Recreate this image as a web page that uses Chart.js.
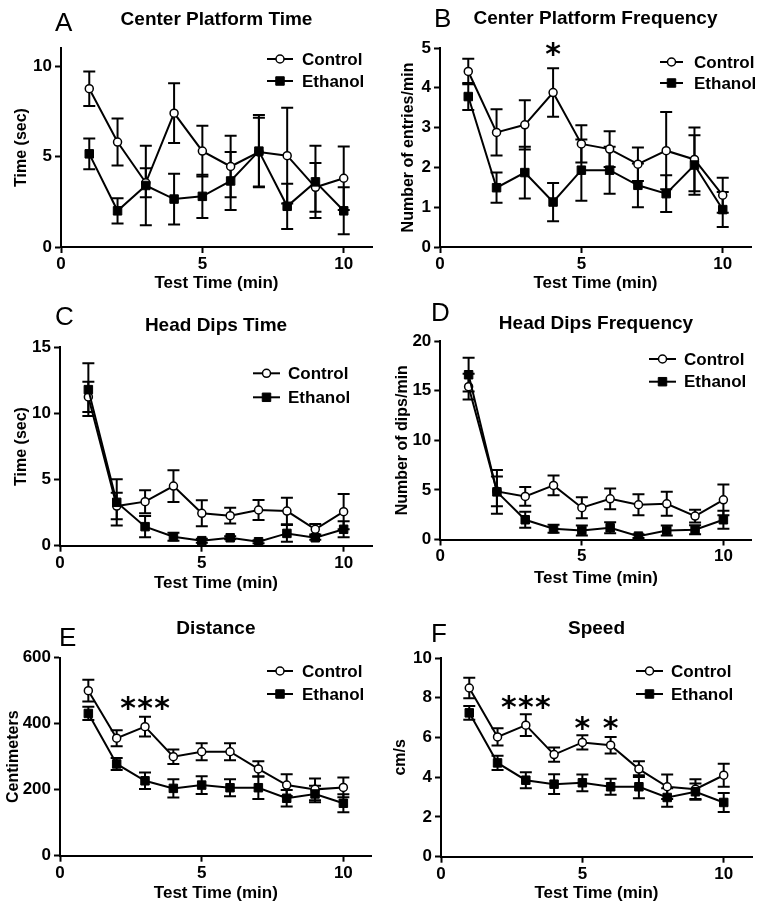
<!DOCTYPE html>
<html>
<head>
<meta charset="utf-8">
<script src="https://cdn.jsdelivr.net/npm/chart.js@4.4.1/dist/chart.umd.min.js"></script>
<style>
  body { margin: 0; background: #fff; width: 762px; height: 908px; position: relative; overflow: hidden; }
  canvas { position: absolute; }
  .letra { position: absolute; font: 26px 'Liberation Sans', Arial, sans-serif; line-height: 1; color: #000; }
</style>
</head>
<body>
<script>
// Datos (media y error por minuto)
const minutos = [1, 2, 3, 4, 5, 6, 7, 8, 9, 10];
const xTicks = [0, 5, 10];

// A - Center Platform Time
const cptControl = [8.75, 5.8, 3.55, 7.4, 5.3, 4.45, 5.25, 5.05, 3.3, 3.8];
const cptControlSem = [0.95, 1.3, 0.8, 1.65, 1.4, 1.7, 1.9, 2.65, 1.35, 1.75];
const cptEthanol = [5.15, 2.0, 3.4, 2.65, 2.8, 3.65, 5.3, 2.25, 3.6, 2.0];
const cptEthanolSem = [0.85, 0.7, 2.2, 1.4, 1.2, 1.6, 2.0, 1.25, 2.0, 1.3];
const cptTicks = [0, 5, 10];

// B - Center Platform Frequency
const cpfControl = [4.41, 2.88, 3.07, 3.88, 2.59, 2.46, 2.08, 2.42, 2.2, 1.3];
const cpfControlSem = [0.32, 0.58, 0.62, 0.61, 0.47, 0.45, 0.42, 0.97, 0.8, 0.44];
const cpfEthanol = [3.78, 1.49, 1.87, 1.13, 1.93, 1.93, 1.55, 1.34, 2.06, 0.94];
const cpfEthanolSem = [0.34, 0.38, 0.65, 0.48, 0.77, 0.59, 0.55, 0.46, 0.75, 0.44];
const cpfTicks = [0, 1, 2, 3, 4, 5];
const cpfStarsX = [4];
const cpfStarsY = [5.04];

// C - Head Dips Time
const hdtControl = [11.25, 3.0, 3.33, 4.51, 2.45, 2.27, 2.7, 2.62, 1.24, 2.57];
const hdtControlSem = [1.15, 1.0, 0.87, 1.2, 0.98, 0.6, 0.75, 1.0, 0.4, 1.33];
const hdtEthanol = [11.8, 3.28, 1.44, 0.68, 0.38, 0.6, 0.3, 0.93, 0.6, 1.24];
const hdtEthanolSem = [2.0, 1.75, 0.8, 0.3, 0.15, 0.12, 0.12, 0.63, 0.15, 0.6];
const hdtTicks = [0, 5, 10, 15];

// D - Head Dips Frequency
const hdfControl = [15.4, 4.85, 4.34, 5.45, 3.2, 4.1, 3.5, 3.6, 2.36, 4.0];
const hdfControlSem = [1.3, 1.5, 0.95, 1.0, 1.05, 1.05, 1.05, 1.2, 0.65, 1.55];
const hdfEthanol = [16.6, 4.8, 1.99, 1.08, 0.91, 1.18, 0.34, 0.91, 0.98, 1.99];
const hdfEthanolSem = [1.7, 2.2, 0.8, 0.4, 0.5, 0.55, 0.2, 0.5, 0.45, 0.9];
const hdfTicks = [0, 5, 10, 15, 20];

// E - Distance
const distControl = [500, 356, 391, 300, 315, 315, 263, 214, 201, 207];
const distControlSem = [33, 24, 30, 22, 26, 26, 23, 33, 33, 30];
const distEthanol = [431, 278, 227, 204, 214, 206, 206, 174, 187, 159];
const distEthanolSem = [20, 18, 25, 28, 27, 26, 34, 25, 25, 27];
const distTicks = [0, 200, 400, 600];
const distStarsX = [2.4, 3, 3.6];
const distStarsY = [472, 472, 472];

// F - Speed
const speedControl = [8.49, 6.03, 6.62, 5.14, 5.75, 5.61, 4.41, 3.52, 3.4, 4.1];
const speedControlSem = [0.52, 0.43, 0.55, 0.36, 0.36, 0.42, 0.4, 0.62, 0.5, 0.58];
const speedEthanol = [7.24, 4.72, 3.85, 3.65, 3.72, 3.52, 3.52, 2.98, 3.27, 2.73];
const speedEthanolSem = [0.35, 0.36, 0.4, 0.5, 0.42, 0.4, 0.58, 0.46, 0.41, 0.48];
const speedTicks = [0, 2, 4, 6, 8, 10];
const speedStarsX = [2.4, 3, 3.6, 5, 6];
const speedStarsY = [7.96, 7.96, 7.96, 6.87, 6.87];

const FUENTE = "'Liberation Sans', Arial, sans-serif";
Chart.defaults.font.family = FUENTE;
Chart.defaults.color = '#000';

// Paneles: textos, datos y ubicacion en la pagina
const paneles = [
  { letra: 'A', titulo: 'Center Platform Time', yTitulo: 'Time (sec)', yMax: 11, ticks: cptTicks,
    control: cptControl, controlSem: cptControlSem, etanol: cptEthanol, etanolSem: cptEthanolSem,
    estrellasX: [], estrellasY: [],
    caja: [0, 0, 381, 300], ejeY: 61, ejeX: 247, derecha: 9, tituloPad: [8.1, 17.1], yTitPad: 12, xTitPad: 6.5,
    letraPos: [55, 8.6], leyenda: [267, 293, 302, 59, 81] },
  { letra: 'B', titulo: 'Center Platform Frequency', yTitulo: 'Number of entries/min', yMax: 5, ticks: cpfTicks,
    control: cpfControl, controlSem: cpfControlSem, etanol: cpfEthanol, etanolSem: cpfEthanolSem,
    estrellasX: cpfStarsX, estrellasY: cpfStarsY,
    caja: [381, 0, 381, 300], ejeY: 59, ejeX: 247, derecha: 11, tituloPad: [7.6, 17.6], yTitPad: 18, xTitPad: 6.5,
    letraPos: [434, 4.6], leyenda: [279, 302, 313, 62, 83] },
  { letra: 'C', titulo: 'Head Dips Time', yTitulo: 'Time (sec)', yMax: 15, ticks: hdtTicks,
    control: hdtControl, controlSem: hdtControlSem, etanol: hdtEthanol, etanolSem: hdtEthanolSem,
    estrellasX: [], estrellasY: [],
    caja: [0, 290, 381, 310], ejeY: 60, ejeX: 255.7, derecha: 9, tituloPad: [24.1, 10.4], yTitPad: 12, xTitPad: 6.5,
    letraPos: [55, 302.6], leyenda: [253, 280, 288, 83.3, 107.3] },
  { letra: 'D', titulo: 'Head Dips Frequency', yTitulo: 'Number of dips/min', yMax: 20, ticks: hdfTicks,
    control: hdfControl, controlSem: hdfControlSem, etanol: hdfEthanol, etanolSem: hdfEthanolSem,
    estrellasX: [], estrellasY: [],
    caja: [381, 290, 381, 310], ejeY: 59.3, ejeX: 249.5, derecha: 10.3, tituloPad: [21.9, 6.3], yTitPad: 12, xTitPad: 11.5,
    letraPos: [431, 298.6], leyenda: [268, 295, 303, 69, 91.7] },
  { letra: 'E', titulo: 'Distance', yTitulo: 'Centimeters', yMax: 600, ticks: distTicks,
    control: distControl, controlSem: distControlSem, etanol: distEthanol, etanolSem: distEthanolSem,
    estrellasX: distStarsX, estrellasY: distStarsY,
    caja: [0, 590, 381, 318], ejeY: 60, ejeX: 265.7, derecha: 9.3, tituloPad: [27.1, 17.8], yTitPad: 3.7, xTitPad: 4.3,
    letraPos: [59, 623.6], leyenda: [267, 293, 302, 81, 104] },
  { letra: 'F', titulo: 'Speed', yTitulo: 'cm/s', yMax: 10, ticks: speedTicks,
    control: speedControl, controlSem: speedControlSem, etanol: speedEthanol, etanolSem: speedEthanolSem,
    estrellasX: speedStarsX, estrellasY: speedStarsY,
    caja: [381, 590, 381, 318], ejeY: 60, ejeX: 266.7, derecha: 10, tituloPad: [26.9, 18.3], yTitPad: 10.4, xTitPad: 4,
    letraPos: [431, 619.6], leyenda: [255, 282, 290, 81, 104] }
];

// Barras de error (media +/- error) dibujadas con las escalas del grafico
const barrasError = {
  id: 'barrasError',
  beforeDatasetsDraw(chart) {
    const { ctx, scales: { x, y } } = chart;
    ctx.save();
    ctx.strokeStyle = '#000';
    ctx.lineWidth = 2;
    chart.data.datasets.forEach(ds => {
      ds.data.forEach((p, i) => {
        const e = ds.sem[i];
        const px = x.getPixelForValue(p.x);
        const arriba = y.getPixelForValue(p.y + e);
        const abajo = y.getPixelForValue(p.y - e);
        ctx.beginPath();
        ctx.moveTo(px, arriba); ctx.lineTo(px, abajo);
        ctx.moveTo(px - 6, arriba); ctx.lineTo(px + 6, arriba);
        ctx.moveTo(px - 6, abajo); ctx.lineTo(px + 6, abajo);
        ctx.stroke();
      });
    });
    ctx.restore();
  }
};

// Leyenda estilo GraphPad: linea con marcador en el medio
const leyendaLinea = {
  id: 'leyendaLinea',
  afterDraw(chart, args, opts) {
    const [x0, x1, tx, y1, y2] = opts.pos;
    const { ctx } = chart;
    ctx.save();
    chart.data.datasets.slice().sort((a, b) => a.legendIdx - b.legendIdx).forEach((ds, i) => {
      const yy = i === 0 ? y1 : y2;
      ctx.strokeStyle = '#000';
      ctx.lineWidth = 2;
      ctx.beginPath(); ctx.moveTo(x0, yy); ctx.lineTo(x1, yy); ctx.stroke();
      ctx.fillStyle = ds.pointBackgroundColor;
      ctx.lineWidth = ds.pointBorderWidth;
      Chart.helpers.drawPoint(ctx, { pointStyle: ds.pointStyle, radius: ds.pointRadius, borderWidth: ds.pointBorderWidth }, (x0 + x1) / 2, yy);
      ctx.fillStyle = '#000';
      ctx.font = 'bold 17px ' + FUENTE;
      ctx.textBaseline = 'middle';
      ctx.fillText(ds.label, tx, yy + 1);
    });
    ctx.restore();
  }
};

// Asteriscos de significancia en coordenadas de datos
const asteriscos = {
  id: 'asteriscos',
  afterDraw(chart, args, opts) {
    const { ctx, scales: { x, y } } = chart;
    const tam = 30;
    ctx.save();
    ctx.fillStyle = '#000';
    ctx.font = "bold " + tam + "px 'DejaVu Sans', sans-serif";
    ctx.textAlign = 'center';
    ctx.textBaseline = 'alphabetic';
    opts.xs.forEach((v, i) => {
      ctx.fillText('*', x.getPixelForValue(v), y.getPixelForValue(opts.ys[i]) + 0.6 * tam);
    });
    ctx.restore();
  }
};

paneles.forEach(p => {
  const [left, top, w, h] = p.caja;
  const canvas = document.createElement('canvas');
  canvas.width = w; canvas.height = h;
  canvas.style.left = left + 'px';
  canvas.style.top = top + 'px';
  document.body.appendChild(canvas);

  const letra = document.createElement('div');
  letra.className = 'letra';
  letra.textContent = p.letra;
  letra.style.left = p.letraPos[0] + 'px';
  letra.style.top = p.letraPos[1] + 'px';
  document.body.appendChild(letra);

  const eje = {
    border: { display: true, color: '#000', width: 2 },
    grid: { drawOnChartArea: false, drawTicks: true, tickLength: 6, tickWidth: 2, tickColor: '#000' }
  };

  new Chart(canvas.getContext('2d'), {
    type: 'line',
    data: {
      datasets: [
        {
          label: 'Ethanol', legendIdx: 1, order: 0,
          data: minutos.map((m, i) => ({ x: m, y: p.etanol[i] })), sem: p.etanolSem,
          borderColor: '#000', borderWidth: 2, pointStyle: 'rect', pointRadius: 6,
          pointBackgroundColor: '#000', pointBorderColor: '#000', pointBorderWidth: 1, clip: false
        },
        {
          label: 'Control', legendIdx: 0, order: 1,
          data: minutos.map((m, i) => ({ x: m, y: p.control[i] })), sem: p.controlSem,
          borderColor: '#000', borderWidth: 2, pointStyle: 'circle', pointRadius: 4,
          pointBackgroundColor: '#fff', pointBorderColor: '#000', pointBorderWidth: 1.5, clip: false
        }
      ]
    },
    options: {
      responsive: false,
      animation: false,
      layout: { padding: { left: 0, top: 0, bottom: 0, right: p.derecha } },
      plugins: {
        legend: { display: false },
        tooltip: { enabled: false },
        title: {
          display: true, text: p.titulo, fullSize: false, color: '#000',
          font: { size: 19, weight: 'bold' },
          padding: { top: p.tituloPad[0], bottom: p.tituloPad[1] }
        },
        leyendaLinea: { pos: p.leyenda },
        asteriscos: { xs: p.estrellasX, ys: p.estrellasY }
      },
      scales: {
        x: {
          ...eje,
          type: 'linear', min: 0, max: 11,
          afterBuildTicks: s => { s.ticks = xTicks.map(v => ({ value: v })); },
          afterFit: s => { s.height = h - p.ejeX; },
          ticks: { font: { size: 17, weight: 'bold' }, padding: 1, maxRotation: 0 },
          title: { display: true, text: 'Test Time (min)', font: { size: 17, weight: 'bold' }, padding: { top: 0, bottom: p.xTitPad } }
        },
        y: {
          ...eje,
          min: 0, max: p.yMax,
          afterBuildTicks: s => { s.ticks = p.ticks.map(v => ({ value: v })); },
          afterFit: s => { s.width = p.ejeY; },
          ticks: { font: { size: 17, weight: 'bold' }, padding: 3 },
          title: { display: true, text: p.yTitulo, font: { size: 16, weight: 'bold' }, padding: { top: p.yTitPad, bottom: 0 } }
        }
      }
    },
    plugins: [barrasError, leyendaLinea, asteriscos]
  });
});
</script>
</body>
</html>
